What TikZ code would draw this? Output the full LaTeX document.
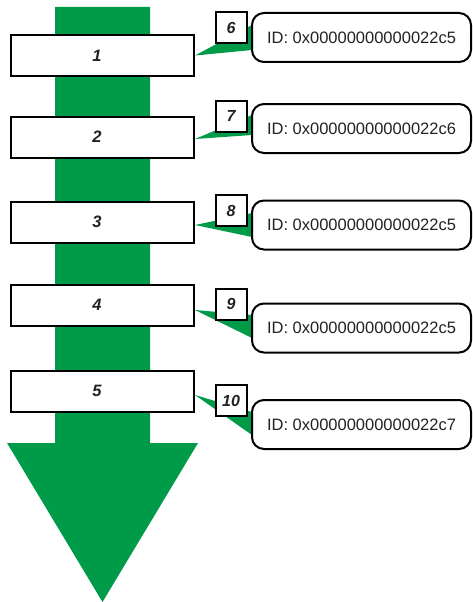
\documentclass[tikz,border=0pt]{standalone}
\usepackage{fontspec}
\setmainfont{Liberation Sans}
\usetikzlibrary{positioning, calc}
\definecolor{flowgreen}{RGB}{0,155,72}
\definecolor{inkgray}{RGB}{34,34,34}

\begin{document}
\begin{tikzpicture}[
  x=1pt, y=-1pt,
  stage/.style={
    draw=black, fill=white, line width=2pt,
    minimum width=183pt, minimum height=41pt, inner sep=0pt,
    text=inkgray, font=\fontsize{16.5}{19}\selectfont\bfseries\itshape,
    execute at begin node=\hspace*{-11pt}
  },
  idbox/.style={
    draw=black, fill=white, line width=2pt, rounded corners=12pt,
    minimum width=219pt, minimum height=49pt, inner sep=0pt,
    text=inkgray, font=\fontsize{16.5}{19}\selectfont
  },
  numbox/.style={
    draw=black, fill=white, line width=2pt,
    minimum width=31pt, minimum height=31pt, inner sep=1pt,
    text=inkgray, font=\fontsize{16}{18}\selectfont\bfseries\itshape
  },
  callout/.style={fill=flowgreen},
]
\useasboundingbox (0,0) rectangle (473,602);

% big flow arrow
\fill[flowgreen] (55,7) -- (150,7) -- (150,443) -- (198,443)
  -- (102.5,602) -- (7,443) -- (55,443) -- cycle;

% stages
\node[stage] (s1) at (102.5,55.5) {1};
\node[stage] (s2) at (102.5,137)  {2};
\node[stage] (s3) at (102.5,222)  {3};
\node[stage] (s4) at (102.5,305)  {4};
\node[stage] (s5) at (102.5,391)  {5};

% id boxes (drawn after the callouts)
\path (361.5,37.5)  coordinate (c1)
      (361.5,128.5) coordinate (c2)
      (361.5,225)   coordinate (c3)
      (361.5,328)   coordinate (c4)
      (361.5,424.5) coordinate (c5);

% callout wedges
\fill[callout] ($(s1.east)+(0,0)$) -- ($(c1)+(-109.5,-12.5)$) -- ($(c1)+(-109.5,12.5)$) -- cycle;
\fill[callout] ($(s2.east)+(0,2)$) -- ($(c2)+(-109.5,-13.5)$) -- ($(c2)+(-109.5,6.5)$) -- cycle;
\fill[callout] ($(s3.east)+(0,3)$) -- ($(c3)+(-109.5,-12)$) -- ($(c3)+(-109.5,12)$) -- cycle;
\fill[callout] ($(s4.east)+(0,5)$) -- ($(c4)+(-109.5,-13)$) -- ($(c4)+(-109.5,10)$) -- cycle;
\fill[callout] ($(s5.east)+(0,4)$) -- ($(c5)+(-109.5,-12.5)$) -- ($(c5)+(-109.5,10.5)$) -- cycle;

\node[idbox] (id1) at (c1) {ID: 0x00000000000022c5};
\node[idbox] (id2) at (c2) {ID: 0x00000000000022c6};
\node[idbox] (id3) at (c3) {ID: 0x00000000000022c5};
\node[idbox] (id4) at (c4) {ID: 0x00000000000022c5};
\node[idbox] (id5) at (c5) {ID: 0x00000000000022c7};

% step numbers
\node[numbox] (n6)  at (231,28)    {6};
\node[numbox] (n7)  at (231,116)   {7};
\node[numbox] (n8)  at (231,210.5) {8};
\node[numbox] (n9)  at (231,304)   {9};
\node[numbox] (n10) at (231,400.5) {10};

\end{tikzpicture}
\end{document}
